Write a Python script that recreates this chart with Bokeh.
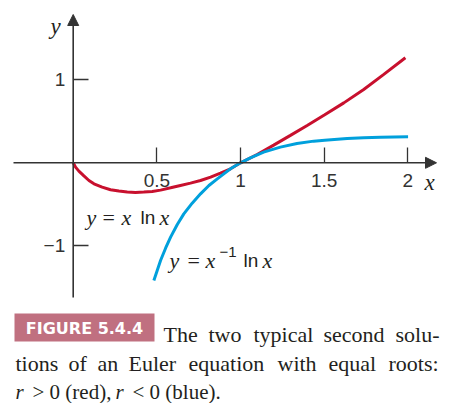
from bokeh.plotting import figure
from bokeh.models import Range1d, FixedTicker, Arrow, NormalHead, Label, BoxAnnotation
from bokeh.embed import file_html
from bokeh.resources import INLINE

# ---------------- data ----------------
red_x = [0.0, 0.014, 0.034, 0.064, 0.094, 0.124, 0.173, 0.223, 0.273, 0.323, 0.372,
         0.422, 0.472, 0.522, 0.582, 0.641, 0.701, 0.761, 0.821, 0.880, 0.940, 1.0,
         1.099, 1.198, 1.298, 1.398, 1.503, 1.617, 1.736, 1.856, 1.985]
red_y = [0.0, -0.052, -0.100, -0.157, -0.213, -0.253, -0.293, -0.325, -0.341, -0.353, -0.357,
         -0.353, -0.345, -0.329, -0.301, -0.273, -0.245, -0.213, -0.173, -0.124, -0.072, 0.0,
         0.100, 0.213, 0.330, 0.450, 0.579, 0.722, 0.884, 1.065, 1.266]

blue_x = [0.482, 0.502, 0.522, 0.552, 0.582, 0.622, 0.661, 0.711, 0.761, 0.811, 0.861,
          0.900, 0.940, 1.0, 1.059, 1.138, 1.238, 1.337, 1.437, 1.503, 1.637, 1.736,
          1.836, 2.001]
blue_y = [-1.418, -1.298, -1.177, -1.029, -0.896, -0.743, -0.615, -0.486, -0.374, -0.273, -0.193,
          -0.133, -0.072, 0.0, 0.060, 0.128, 0.189, 0.233, 0.261, 0.273, 0.293, 0.301,
          0.309, 0.313]

x_ticks = [0.5, 1, 1.5, 2]
x_tick_labels = ["0.5", "1", "1.5", "2"]
y_ticks = [-1, 1]
y_tick_labels = ["\u22121", "1"]

caption_tag = "FIGURE 5.4.4"
caption_line1 = ["The", "two", "typical", "second", "solu-"]
caption_line2 = ["tions", "of", "an", "Euler", "equation", "with", "equal", "roots:"]
caption_line3 = [("r", True), ("> 0 (red),", False), ("r", True), ("< 0 (blue).", False)]

# ---------------- layout constants ----------------
W, H = 457, 403
OFF = 0                   # page offset of the figure
X0, Y0 = 72.7, 162.3      # origin position inside the figure (px)
SX, SY = 167.35, 83.0     # px per unit

RED = "#c8102e"
BLUE = "#00a0dc"
AXIS = "#333333"
TAG = "#c07080"
TEXT = "#231f20"
SERIF = "Liberation Serif"
SANS = "Liberation Sans"


def fx(px):
    return (px - OFF - X0) / SX


def fy(py):
    return (Y0 - (py - OFF)) / SY


p = figure(width=W, height=H,
           x_range=Range1d(-X0 / SX, (W - X0) / SX),
           y_range=Range1d(-(H - Y0) / SY, Y0 / SY),
           output_backend="svg", toolbar_location=None, min_border=0)
p.outline_line_color = None
p.grid.visible = False
p.background_fill_color = "white"
p.border_fill_color = "white"

xa = p.xaxis[0]
xa.fixed_location = 0
xa.ticker = FixedTicker(ticks=x_ticks)
xa.major_label_overrides = dict(zip(x_ticks, x_tick_labels))
xa.axis_line_color = None
xa.major_tick_in = 15
xa.major_tick_out = 0
xa.minor_tick_line_color = None
xa.major_tick_line_color = AXIS
xa.major_tick_line_width = 1.3
xa.major_label_standoff = 11
xa.major_label_text_font = SANS
xa.major_label_text_font_size = "19px"
xa.major_label_text_color = AXIS

ya = p.yaxis[0]
ya.fixed_location = 0
ya.ticker = FixedTicker(ticks=y_ticks)
ya.major_label_overrides = dict(zip(y_ticks, y_tick_labels))
ya.axis_line_color = None
ya.major_tick_in = 15
ya.major_tick_out = 0
ya.minor_tick_line_color = None
ya.major_tick_line_color = AXIS
ya.major_tick_line_width = 1.3
ya.major_label_standoff = 8
ya.major_label_text_font = SANS
ya.major_label_text_font_size = "19px"
ya.major_label_text_color = AXIS

# axis lines with arrow heads
p.add_layout(Arrow(x_start=fx(13), y_start=0, x_end=fx(436), y_end=0,
                   line_color=AXIS, line_width=1.6,
                   end=NormalHead(size=11, fill_color=AXIS, line_color=AXIS)))
p.add_layout(Arrow(x_start=0, y_start=fy(297), x_end=0, y_end=fy(14),
                   line_color=AXIS, line_width=1.6,
                   end=NormalHead(size=11, fill_color=AXIS, line_color=AXIS)))

# curves
p.line(red_x, red_y, line_color=RED, line_width=3)
p.line(blue_x, blue_y, line_color=BLUE, line_width=3)


def lab(text, px, py, font=SERIF, style="normal", size="22px", color=TEXT,
        align="left", baseline="alphabetic"):
    p.add_layout(Label(x=fx(px), y=fy(py), text=text, text_font=font,
                       text_font_style=style,
                       text_font_size=size, text_color=color,
                       text_align=align, text_baseline=baseline))


# axis names
lab("x", 424, 182, style="italic", size="23px")
lab("y", 50, 26, style="italic", size="23px")

# curve labels
lab("y", 86, 217, style="italic")
lab("=", 102, 217)
lab("x", 121, 217, style="italic")
lab("ln", 140, 217, font=SANS, size="19px")
lab("x", 159, 217, style="italic")

lab("y", 169, 260, style="italic")
lab("=", 187, 260)
lab("x", 205, 260, style="italic")
lab("\u22121", 219, 251, font=SANS, size="15px")
lab("ln", 243, 260, font=SANS, size="19px")
lab("x", 262, 260, style="italic")

# caption
p.add_layout(BoxAnnotation(left=fx(14), right=fx(154), top=fy(313), bottom=fy(341),
                           fill_color=TAG, fill_alpha=1, line_color=None))
lab(caption_tag, 84, 328, font="DejaVu Sans", size="16px", color="white",
    align="center", baseline="middle", style="bold")

for word, px in zip(caption_line1, [163, 208, 253, 323, 395]):
    lab(word, px, 334)
for word, px in zip(caption_line2, [15, 68, 97, 128, 188, 277, 328, 388]):
    lab(word, px, 363)
for (word, ital), px in zip(caption_line3, [15, 32, 115, 132]):
    lab(word, px, 391, style="italic" if ital else "normal", size="21px")

open("out.html", "w").write(file_html(p, INLINE))
